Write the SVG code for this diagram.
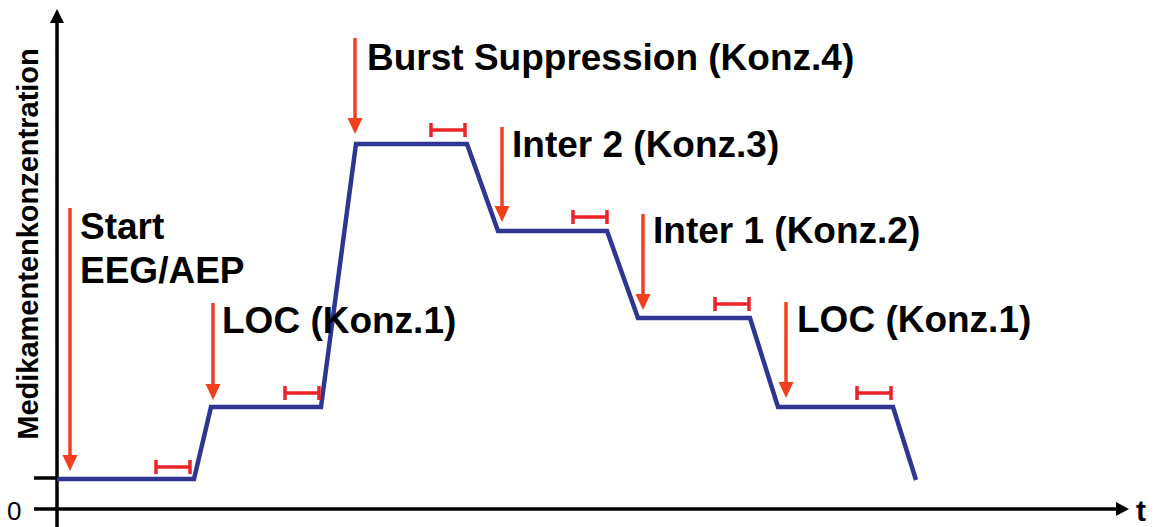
<svg xmlns="http://www.w3.org/2000/svg" width="1157" height="527" viewBox="0 0 1157 527">
<style>
.lbl{font-family:"Liberation Sans",Arial,sans-serif;font-weight:bold;font-size:37px;fill:#000}
.axis{stroke:#000;stroke-width:3.5;fill:none}
.curve{stroke:#2e3592;stroke-width:4.5;fill:none;stroke-linejoin:miter}
.arr{stroke:#f2401f;stroke-width:3.5;fill:none}
.head{fill:#f2401f}
.bar{stroke:#ec2428;stroke-width:3.5;fill:none}
</style>
<rect width="1157" height="527" fill="#fff"/>
<g id="axes">
<line class="axis" x1="57" y1="20" x2="57" y2="527"/>
<polygon points="57,9 50,23 64,23" fill="#000"/>
<line class="axis" x1="34" y1="509" x2="1118" y2="509"/>
<polygon points="1129,509 1116,502 1116,516" fill="#000"/>
<line class="axis" x1="34" y1="478" x2="57" y2="478"/>
<text x="7" y="520" style="font-family:'Liberation Sans',Arial,sans-serif;font-size:26px">0</text>
<text x="1136" y="521" style="font-family:'Liberation Sans',Arial,sans-serif;font-weight:bold;font-size:30px">t</text>
<text transform="translate(38,244) rotate(-90)" text-anchor="middle" style="font-family:'Liberation Sans',Arial,sans-serif;font-weight:bold;font-size:29px">Medikamentenkonzentration</text>
</g>
<g id="curve">
<polyline class="curve" points="57,479 194,479 211,407 321,407 356,144 467,144 498,231 607,231 638,318 750,318 778,407 893,407 916,480"/>
</g>
<g id="connectors">
<line class="arr" x1="70" y1="208" x2="70" y2="458"/>
<polygon class="head" points="70,471 62.5,455 77.5,455"/>
<line class="arr" x1="213" y1="303" x2="213" y2="387"/>
<polygon class="head" points="213,400 205.5,384 220.5,384"/>
<line class="arr" x1="355" y1="38" x2="355" y2="121"/>
<polygon class="head" points="355,134 347.5,118 362.5,118"/>
<line class="arr" x1="502" y1="127" x2="502" y2="209"/>
<polygon class="head" points="502,222 494.5,206 509.5,206"/>
<line class="arr" x1="643" y1="214" x2="643" y2="297"/>
<polygon class="head" points="643,310 635.5,294 650.5,294"/>
<line class="arr" x1="786" y1="302" x2="786" y2="385"/>
<polygon class="head" points="786,398 778.5,382 793.5,382"/>
</g>
<g id="bars">
<path class="bar" d="M156,467H190M156,460V474M190,460V474"/>
<path class="bar" d="M285,393H319M285,386V400M319,386V400"/>
<path class="bar" d="M431,130H465M431,123V137M465,123V137"/>
<path class="bar" d="M573,217H607M573,210V224M607,210V224"/>
<path class="bar" d="M715,304H749M715,297V311M749,297V311"/>
<path class="bar" d="M857,393H891M857,386V400M891,386V400"/>
</g>
<g id="n-start"><text class="lbl" x="80" y="239">Start</text><text class="lbl" x="80" y="283">EEG/AEP</text></g>
<g id="n-loc1"><text class="lbl" x="222" y="333">LOC (Konz.1)</text></g>
<g id="n-burst"><text class="lbl" x="367" y="70">Burst Suppression (Konz.4)</text></g>
<g id="n-inter2"><text class="lbl" x="512" y="157">Inter 2 (Konz.3)</text></g>
<g id="n-inter1"><text class="lbl" x="653" y="243">Inter 1 (Konz.2)</text></g>
<g id="n-loc2"><text class="lbl" x="797" y="332">LOC (Konz.1)</text></g>
</svg>
